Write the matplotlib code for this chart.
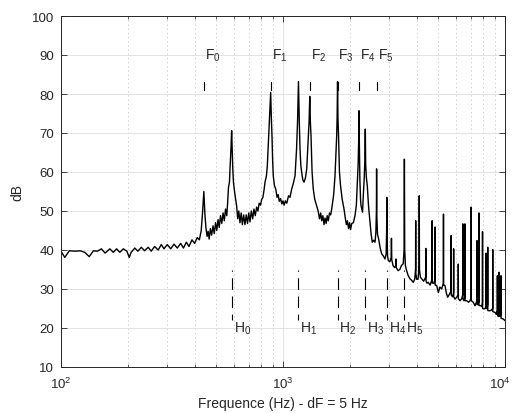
import numpy as np
import matplotlib
matplotlib.use("Agg")
import matplotlib.pyplot as plt
import matplotlib.transforms as mtransforms
from matplotlib.ticker import LogLocator, NullFormatter

plt.rcParams['font.family'] = ['Liberation Sans', 'DejaVu Sans']
plt.rcParams['mathtext.fontset'] = 'custom'
plt.rcParams['mathtext.rm'] = 'Liberation Sans'
plt.rcParams['mathtext.it'] = 'Liberation Sans:italic'
plt.rcParams['lines.scale_dashes'] = False

# spectrum (Hz, dB)
freq_hz = [100, 104, 109, 116, 122, 128, 134, 140, 146, 152, 158, 166, 172, 178, 184, 191, 198, 203, 207,
           215, 222, 230, 238, 247, 255, 264, 274, 283, 291, 301, 312, 323, 334, 346, 356, 367, 377, 389,
           400, 411, 420, 428, 434, 440, 445, 450, 455, 460, 465, 471, 477, 484, 490, 497, 503, 510, 516,
           523, 530, 537, 544, 551, 558, 563, 568, 574, 578, 583, 587, 591, 594, 598, 603, 610, 618, 625,
           632, 640, 648, 656, 665, 674, 683, 692, 701, 710, 720, 730, 740, 750, 761, 771, 781, 792, 802,
           812, 822, 830, 842, 850, 862, 871, 880, 886, 892, 898, 904, 915, 928, 940, 951, 962, 975, 988,
           1000, 1012, 1025, 1040, 1059, 1075, 1094, 1112, 1133, 1151, 1163, 1174, 1184, 1193, 1204, 1214,
           1228, 1244, 1262, 1279, 1301, 1311, 1320, 1328, 1337, 1352, 1369, 1390, 1417, 1440, 1460, 1478,
           1494, 1512, 1530, 1546, 1565, 1582, 1600, 1620, 1640, 1657, 1690, 1715, 1745, 1753, 1761, 1768,
           1779, 1796, 1816, 1848, 1883, 1910, 1930, 1950, 1974, 1995, 2015, 2040, 2075, 2110, 2140, 2160,
           2180, 2192, 2200, 2208, 2220, 2235, 2246, 2264, 2282, 2300, 2320, 2338, 2348, 2357, 2375, 2397,
           2430, 2466, 2495, 2525, 2560, 2597, 2620, 2635, 2640, 2646, 2665, 2697, 2740, 2784, 2830, 2881,
           2915, 2930, 2935, 2940, 2958, 2980, 3030, 3070, 3080, 3090, 3131, 3180, 3220, 3228, 3236, 3299,
           3360, 3413, 3480, 3510, 3522, 3534, 3560, 3588, 3660, 3733, 3800, 3861, 3920, 3955, 3960, 3966,
           4000, 4060, 4100, 4109, 4118, 4160, 4216, 4300, 4390, 4400, 4410, 4450, 4509, 4600, 4690, 4696,
           4703, 4780, 4835, 4840, 4846, 4924, 5011, 5090, 5187, 5275, 5283, 5291, 5367, 5440, 5520, 5600,
           5714, 5720, 5726, 5800, 5865, 5870, 5876, 5955, 6080, 6155, 6160, 6166, 6272, 6380, 6450, 6457,
           6464, 6530, 6595, 6600, 6607, 6723, 6853, 6960, 7038, 7044, 7050, 7196, 7329, 7420, 7475, 7480,
           7486, 7560, 7625, 7631, 7637, 7771, 7860, 7915, 7920, 7926, 8041, 8150, 8213, 8218, 8224, 8300,
           8355, 8360, 8366, 8500, 8650, 8800, 8805, 8811, 9016, 9130, 9235, 9240, 9246, 9320, 9387, 9392,
           9398, 9500, 9589, 9594, 9600, 9824, 10000]
level_db = [39.7, 38.1, 39.8, 39.7, 39.8, 39.4, 38.3, 39.8, 39.7, 40.3, 39.2, 40.3, 39.4, 40.3, 39.4, 40.3,
            39.7, 38.1, 39.4, 40.5, 39.7, 40.7, 39.8, 40.7, 39.7, 40.9, 40.0, 41.4, 40.3, 41.4, 40.3, 41.5,
            40.5, 41.7, 40.5, 42.0, 40.9, 42.6, 41.7, 43.2, 42.6, 44.9, 49.5, 55.0, 49.0, 45.5, 43.5, 44.8,
            42.8, 45.5, 43.8, 46.2, 44.2, 47.0, 45.0, 47.8, 45.8, 48.8, 46.8, 49.5, 47.5, 50.5, 48.8, 52.0,
            56.0, 57.5, 61.6, 66.0, 70.6, 65.0, 60.8, 57.5, 55.6, 53.5, 51.4, 48.0, 50.0, 47.0, 49.5, 46.5,
            49.0, 46.5, 49.0, 46.8, 49.5, 47.2, 50.0, 48.0, 50.5, 48.8, 51.0, 50.0, 52.0, 51.5, 53.0, 53.5,
            55.5, 57.4, 59.0, 61.6, 69.3, 74.5, 80.4, 74.0, 69.3, 63.0, 59.0, 56.5, 55.6, 53.5, 54.2, 52.5,
            53.2, 51.8, 52.6, 51.5, 52.6, 52.0, 53.9, 53.5, 55.6, 57.0, 59.0, 65.9, 73.0, 83.2, 73.0, 65.9,
            61.5, 59.9, 58.0, 57.4, 58.5, 60.8, 69.3, 73.0, 79.4, 73.0, 69.3, 60.0, 55.6, 53.0, 51.4, 50.0,
            48.0, 49.5, 47.5, 48.8, 46.5, 48.2, 46.8, 48.8, 47.5, 49.5, 49.0, 50.5, 54.0, 59.0, 69.3, 74.0,
            83.2, 74.0, 69.3, 60.0, 56.5, 53.0, 50.5, 48.0, 46.5, 47.5, 45.5, 47.0, 45.2, 46.8, 47.0, 48.8,
            51.5, 56.5, 62.0, 68.0, 75.7, 67.0, 58.0, 53.0, 51.4, 50.5, 49.7, 54.0, 58.0, 63.0, 71.0, 62.0,
            58.5, 56.5, 51.0, 47.1, 44.0, 42.0, 42.5, 42.0, 44.5, 50.0, 60.8, 49.0, 44.0, 42.8, 40.5, 39.0,
            38.5, 37.7, 39.0, 45.0, 53.5, 44.0, 38.5, 37.3, 37.0, 38.0, 43.0, 37.5, 36.0, 35.5, 36.0, 37.7,
            35.5, 34.7, 35.0, 36.0, 36.5, 40.0, 63.3, 40.0, 36.0, 35.1, 33.5, 32.6, 32.2, 31.7, 32.5, 35.0,
            47.5, 34.0, 32.5, 32.5, 36.0, 53.9, 35.0, 33.0, 32.6, 32.0, 33.0, 40.4, 32.0, 31.5, 31.7, 31.0,
            32.5, 47.5, 31.5, 31.5, 32.5, 45.9, 31.0, 30.9, 29.1, 30.5, 30.0, 31.5, 49.2, 31.0, 30.9, 29.0,
            27.9, 28.5, 29.5, 43.7, 28.5, 28.0, 29.0, 40.3, 28.0, 27.4, 28.0, 28.5, 36.4, 27.5, 27.0, 27.5,
            28.5, 46.7, 27.5, 27.0, 28.0, 46.7, 27.0, 27.0, 26.6, 27.0, 28.0, 51.0, 27.0, 26.6, 25.7, 26.5,
            27.0, 42.4, 26.0, 26.0, 27.0, 49.5, 25.8, 25.7, 25.5, 26.5, 44.7, 25.0, 24.9, 25.0, 26.0, 39.2,
            25.0, 25.0, 26.0, 40.7, 24.5, 24.4, 24.5, 25.0, 40.1, 24.2, 24.0, 23.5, 24.5, 33.4, 23.5, 23.0,
            24.0, 34.3, 23.0, 23.0, 23.5, 33.4, 22.5, 22.3, 21.9]

# note markers
f_notes = [440, 880, 1320, 1760, 2200, 2640]
h_notes = [587, 1174, 1761, 2348, 2935, 3522]
f_labels = [r'F$_0$', r'F$_1$', r'F$_2$', r'F$_3$', r'F$_4$', r'F$_5$']
h_labels = [r'H$_0$', r'H$_1$', r'H$_2$', r'H$_3$', r'H$_4$', r'H$_5$']

# axis ticks
x_ticks = [100, 1000, 10000]
x_ticklabels = [r'$10^2$', r'$10^3$', r'$10^4$']
y_ticks = [10, 20, 30, 40, 50, 60, 70, 80, 90, 100]

axc = '#262626'
fig = plt.figure(figsize=(5.14, 4.14), dpi=100)
ax = fig.add_axes([61 / 514, 46 / 414, 444 / 514, 351 / 414])

ax.plot(freq_hz, level_db, color='k', lw=1.0)

for f, lab in zip(f_notes, f_labels):
    ax.plot([f, f], [81.1, 83.0], color='k', lw=0.8)
    ax.text(f * 1.01, 89.0, lab, ha='left', va='baseline', fontsize=10, color=axc)
for h, lab in zip(h_notes, h_labels):
    ax.plot([h, h], [35, 22], color='k', lw=0.8, linestyle=(7.5, (8.4, 4.7)))
    ax.text(h * 1.02, 19.2, lab, ha='left', va='baseline', fontsize=10, color=axc)

ax.set_xscale('log')
ax.set_xlim(100, 10000)
ax.set_ylim(10, 100)
ax.set_yticks(y_ticks)
ax.set_xticks(x_ticks, labels=x_ticklabels)
ax.xaxis.set_minor_locator(LogLocator(base=10, subs=np.arange(2, 10)))
ax.xaxis.set_minor_formatter(NullFormatter())

ax.set_axisbelow(True)
ax.grid(True, which='major', color='#dedede', lw=0.6, ls='-')
ax.xaxis.grid(True, which='minor', color='#c8c8c8', lw=0.6, ls=(0, (1, 2)))

ax.tick_params(which='both', direction='in', top=True, right=True, colors=axc, labelsize=9.5)
ax.tick_params(which='major', length=4, width=0.6)
ax.tick_params(which='minor', length=2.5, width=0.5)
ax.tick_params(axis='x', pad=6)
ax.tick_params(axis='y', pad=5)
for s in ax.spines.values():
    s.set_color(axc)
    s.set_linewidth(0.7)

ax.set_xlabel('Frequence (Hz) - dF = 5 Hz', fontsize=10, color=axc, labelpad=4)
ax.set_ylabel('dB', fontsize=10, color=axc, labelpad=5)

# keep the last decade label inside the canvas
last = ax.xaxis.get_major_ticks()[-1].label1
last.set_transform(last.get_transform() + mtransforms.ScaledTranslation(-4 / 72, 0, fig.dpi_scale_trans))

fig.savefig('out.png', dpi=100)
